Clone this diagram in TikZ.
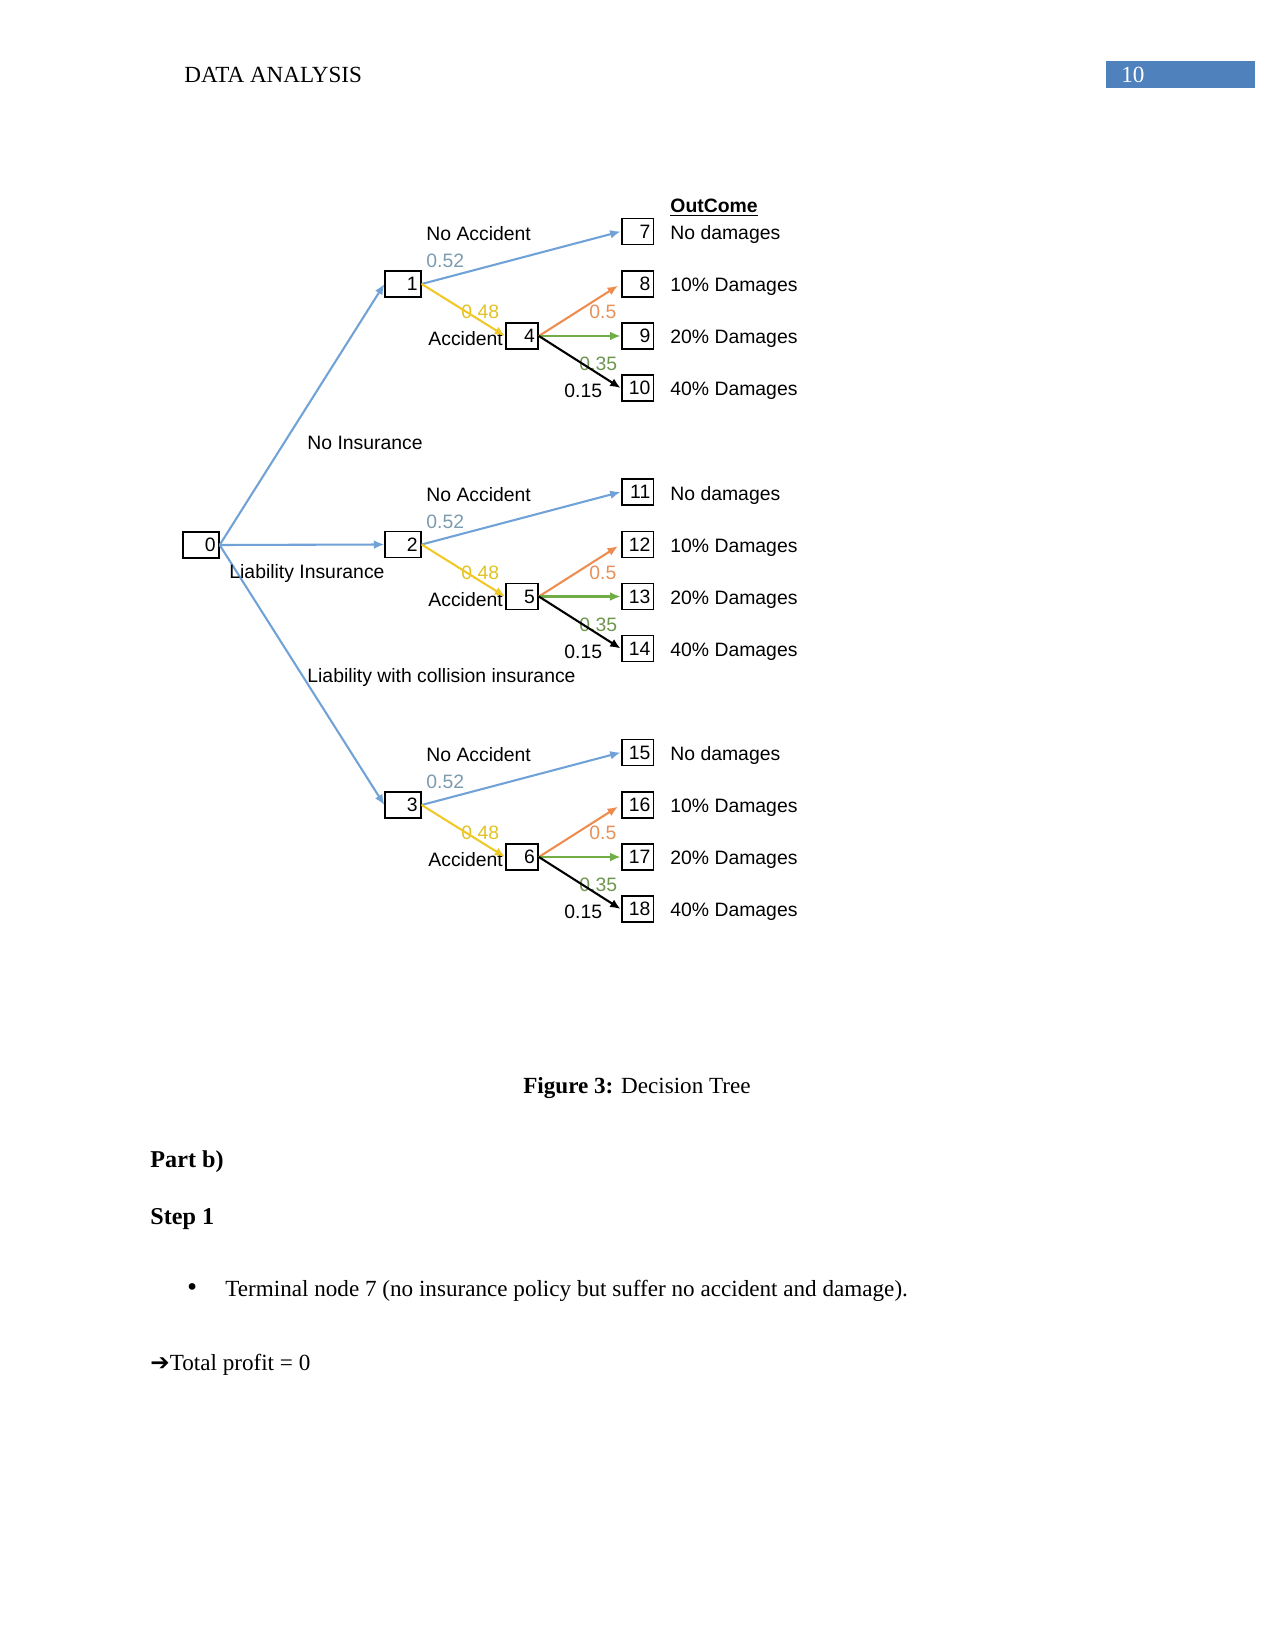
\documentclass[tikz,border=0pt]{standalone}
\usepackage{fontspec}
\setmainfont{Liberation Serif}
\newfontfamily\diag{Liberation Sans}
\newfontfamily\sym{DejaVu Sans}
\usetikzlibrary{arrows.meta}
\definecolor{eblue}{RGB}{112,162,215}
\definecolor{eyel}{RGB}{240,200,40}
\definecolor{eorg}{RGB}{238,140,80}
\definecolor{egrn}{RGB}{112,173,71}
\definecolor{lblue}{RGB}{125,155,175}
\definecolor{lyel}{RGB}{225,195,40}
\definecolor{lorg}{RGB}{230,145,90}
\definecolor{lgrn}{RGB}{110,150,80}
\definecolor{hblue}{RGB}{79,129,189}
\begin{document}
\begin{tikzpicture}[x=0.48pt,y=-0.48pt,
  dfont/.style={font=\diag\fontsize{9.3}{11}\selectfont},
  box/.style={draw, line width=0.9pt, dfont, minimum height=12.5pt, inner ysep=0pt, inner xsep=1.5pt, align=right, text width=14pt},
  sbox/.style={box, text width=12.3pt},
  lbl/.style={dfont, inner sep=0pt, anchor=west},
  arr/.style={-{Latex[length=5pt,width=4.2pt]}, line width=1pt},
  ptext/.style={font=\fontsize{11.1}{14}\selectfont, inner sep=0pt, anchor=west},
  btext/.style={font=\bfseries\fontsize{11.6}{14}\selectfont, inner sep=0pt, anchor=west}]
\useasboundingbox (0,0) rectangle (1275,1650);

% header
\node[ptext] (hdr) at (184,75) {DATA ANALYSIS};
\fill[hblue] (1106,61) rectangle (1255,88);
\node[ptext, text=white] (pg) at (1121,75) {10};

% root
\node[box] (n0) at (201,545) {0};
\node[lbl, font=\diag\bfseries\fontsize{9.3}{11}\selectfont] (oc) at (670,208) {\underline{OutCome}};

\foreach \a/\c/\p/\q/\r/\s/\b in {1/4/7/8/9/10/284, 2/5/11/12/13/14/544.5, 3/6/15/16/17/18/805} {
  % labels
  \node[lbl] (na\a) at (426,\b-50) {No Accident};
  \node[lbl, text=lblue] (pa\a) at (426,\b-23) {0.52};
  \node[lbl, text=lyel] (pb\a) at (461,\b+28) {0.48};
  \node[lbl] (ac\a) at (428,\b+55) {Accident};
  \node[lbl, text=lorg] (pc\a) at (589,\b+28) {0.5};
  \node[lbl, text=lgrn] (pd\a) at (579,\b+80) {0.35};
  \node[lbl] (pe\a) at (564,\b+107) {0.15};
  % boxes
  \node[box] (n\a) at (403,\b) {\a};
  \node[sbox, fill=white] (n\c) at (522,\b+52) {\c};
  \node[sbox] (n\p) at (637.5,\b-52.5) {\p};
  \node[sbox] (n\q) at (637.5,\b) {\q};
  \node[sbox] (n\r) at (637.5,\b+52) {\r};
  \node[sbox] (n\s) at (637.5,\b+104) {\s};
  % outcomes
  \node[lbl] (o\p) at (670,\b-49.5) {No damages};
  \node[lbl] (o\q) at (670,\b+3) {10\% Damages};
  \node[lbl] (o\r) at (670,\b+55) {20\% Damages};
  \node[lbl] (o\s) at (670,\b+107) {40\% Damages};
  % edges
  \draw[arr, eblue] (n0.east) -- (n\a.west);
  \draw[arr, eblue] (n\a.east) -- (n\p.west);
  \draw[arr, eyel] (n\a.east) -- (n\c.west);
  \draw[arr, eorg, shorten >=1.5pt] (n\c.east) -- (n\q.west);
  \draw[arr, egrn] (n\c.east) -- (n\r.west);
  \draw[arr, black] (n\c.east) -- (n\s.west);
}

\node[lbl] (l1) at (307,443) {No Insurance};
\node[lbl] (l2) at (229,573) {Liability Insurance};
\node[lbl] (l3) at (307,677) {Liability with collision insurance};

% text below
\node[font=\fontsize{11.1}{14}\selectfont, inner sep=0pt] (cap) at (637,1088) {\textbf{Figure 3:} Decision Tree};
\node[btext] (pb) at (150,1162) {Part b)};
\node[btext] (st) at (150,1219) {Step 1};
\node[ptext] (bul) at (185,1290) {{\sym •}};
\node[ptext] (tn) at (225,1291) {Terminal node 7 (no insurance policy but suffer no accident and damage).};
\node[ptext] (tp) at (150,1365) {{\sym\bfseries ➔}Total profit = 0};
\end{tikzpicture}
\end{document}
